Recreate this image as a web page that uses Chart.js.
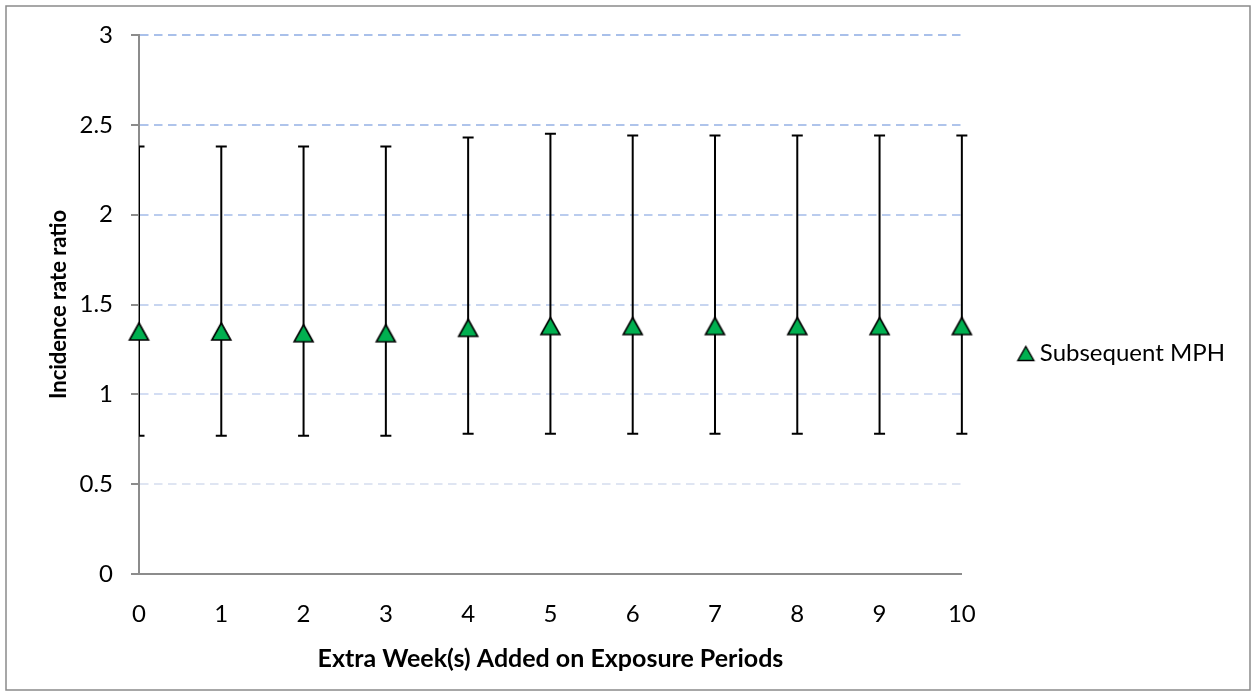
<!DOCTYPE html>
<html>
<head>
<meta charset="utf-8">
<script src="https://cdn.jsdelivr.net/npm/chart.js@4/dist/chart.umd.min.js"></script>
<style>
  html, body { margin: 0; padding: 0; background: #fff; }
  #wrap { width: 1256px; height: 696px; position: relative; }
</style>
</head>
<body>
<div id="wrap"><canvas id="chart" width="1256" height="696"></canvas></div>
<script>
// Extra weeks added to the exposure periods (x positions)
const weeks = [0, 1, 2, 3, 4, 5, 6, 7, 8, 9, 10];
const xTickLabels = ['0', '1', '2', '3', '4', '5', '6', '7', '8', '9', '10'];
// Incidence rate ratio with 95% confidence limits
const irr     = [1.35, 1.35, 1.34, 1.34, 1.37, 1.38, 1.38, 1.38, 1.38, 1.38, 1.38];
const ciLower = [0.77, 0.77, 0.77, 0.77, 0.78, 0.78, 0.78, 0.78, 0.78, 0.78, 0.78];
const ciUpper = [2.38, 2.38, 2.38, 2.38, 2.43, 2.45, 2.44, 2.44, 2.44, 2.44, 2.44];
const yTicks = [0, 0.5, 1, 1.5, 2, 2.5, 3];
const yTickLabels = ['0', '0.5', '1', '1.5', '2', '2.5', '3'];
const seriesName = 'Subsequent MPH';

const FONT = 'Lato, "Open Sans", sans-serif';
const GREEN = '#00B050';

// Triangle marker rendered once and reused as an image point style
function triangleIcon(w, h, lw) {
  const c = document.createElement('canvas');
  c.width = Math.ceil(w + lw * 2 + 2);
  c.height = Math.ceil(h + lw * 2 + 2);
  const g = c.getContext('2d');
  const cx = c.width / 2;
  const top = (c.height - h) / 2;
  g.beginPath();
  g.moveTo(cx, top);
  g.lineTo(cx + w / 2, top + h);
  g.lineTo(cx - w / 2, top + h);
  g.closePath();
  g.fillStyle = GREEN;
  g.fill();
  g.lineWidth = lw;
  g.lineJoin = 'miter';
  g.strokeStyle = '#000';
  g.stroke();
  return c;
}
const markerIcon = triangleIcon(19, 17, 1.6);
const legendIcon = triangleIcon(16, 14, 1.4);

// Gridline tint per tick value
const gridTint = { 0.5: '#DFE5F2', 1: '#D3DDF3', 1.5: '#C7D5F0', 2: '#BACCEE', 2.5: '#AFC4EB', 3: '#A9C0EA' };

// Vertical confidence-interval whiskers drawn beneath the markers
const errorBars = {
  id: 'errorBars',
  beforeDatasetsDraw(chart) {
    const { ctx, chartArea: a, scales: { x, y } } = chart;
    ctx.save();
    ctx.beginPath();
    ctx.rect(a.left, 0, chart.width - a.left, chart.height);
    ctx.clip();
    ctx.strokeStyle = '#000';
    ctx.lineWidth = 2;
    const half = 5.5;
    weeks.forEach((w, i) => {
      const px = x.getPixelForValue(w);
      const yu = y.getPixelForValue(ciUpper[i]);
      const yl = y.getPixelForValue(ciLower[i]);
      ctx.beginPath();
      ctx.moveTo(px, yu); ctx.lineTo(px, yl);
      ctx.moveTo(px - half, yu); ctx.lineTo(px + half, yu);
      ctx.moveTo(px - half, yl); ctx.lineTo(px + half, yl);
      ctx.stroke();
    });
    ctx.restore();
  }
};

// Thin grey frame around the whole figure
const frame = {
  id: 'frame',
  afterDraw(chart) {
    const ctx = chart.ctx;
    ctx.save();
    ctx.strokeStyle = '#8A8A8A';
    ctx.lineWidth = 1.5;
    ctx.strokeRect(6, 6, chart.width - 12, chart.height - 12);
    ctx.restore();
  }
};

new Chart(document.getElementById('chart'), {
  type: 'scatter',
  data: {
    datasets: [{
      label: seriesName,
      data: weeks.map((w, i) => ({ x: w, y: irr[i] })),
      pointStyle: markerIcon,
      showLine: false,
      clip: false
    }]
  },
  options: {
    responsive: false,
    animation: false,
    events: [],
    layout: { padding: { top: 35, left: 20, right: 21, bottom: 24 } },
    plugins: {
      tooltip: { enabled: false },
      legend: {
        position: 'right',
        align: 'center',
        labels: {
          usePointStyle: true,
          boxWidth: 4,
          padding: 62,
          color: '#000',
          font: { family: FONT, size: 24 },
          generateLabels: () => [{
            text: seriesName,
            pointStyle: legendIcon,
            fillStyle: GREEN,
            strokeStyle: '#000',
            lineWidth: 0,
            hidden: false,
            datasetIndex: 0
          }]
        }
      }
    },
    scales: {
      x: {
        type: 'linear',
        min: 0,
        max: 10,
        afterFit(scale) { scale.height = 696 - 24 - 574; },
        afterBuildTicks(scale) { scale.ticks = weeks.map(v => ({ value: v })); },
        ticks: {
          color: '#000',
          font: { family: FONT, size: 24 },
          padding: 18,
          callback: (v) => xTickLabels[weeks.indexOf(v)]
        },
        grid: { display: false },
        border: { display: true, color: '#8C8C8C', width: 2 },
        title: {
          display: true,
          text: 'Extra Week(s) Added on Exposure Periods',
          color: '#000',
          font: { family: FONT, size: 25, weight: 'bold' },
          padding: { top: 0, bottom: -2 }
        }
      },
      y: {
        type: 'linear',
        min: 0,
        max: 3,
        afterFit(scale) { scale.width = 139 - 20; },
        afterBuildTicks(scale) { scale.ticks = yTicks.map(v => ({ value: v })); },
        ticks: {
          color: '#000',
          font: { family: FONT, size: 24 },
          padding: 18,
          callback: (v) => yTickLabels[yTicks.indexOf(v)]
        },
        grid: {
          color: (c) => (c.tick && gridTint[c.tick.value]) || 'rgba(0,0,0,0)',
          lineWidth: 2,
          tickLength: 8,
          tickColor: '#8C8C8C',
          tickWidth: 2,
          tickBorderDash: []
        },
        border: { display: true, color: '#8C8C8C', width: 2, dash: [8.5, 5.5] },
        title: {
          display: true,
          text: 'Incidence rate ratio',
          color: '#000',
          font: { family: FONT, size: 22, weight: 'bold' },
          padding: { top: 26, bottom: 0 }
        }
      }
    }
  },
  plugins: [errorBars, frame]
});
</script>
</body>
</html>
